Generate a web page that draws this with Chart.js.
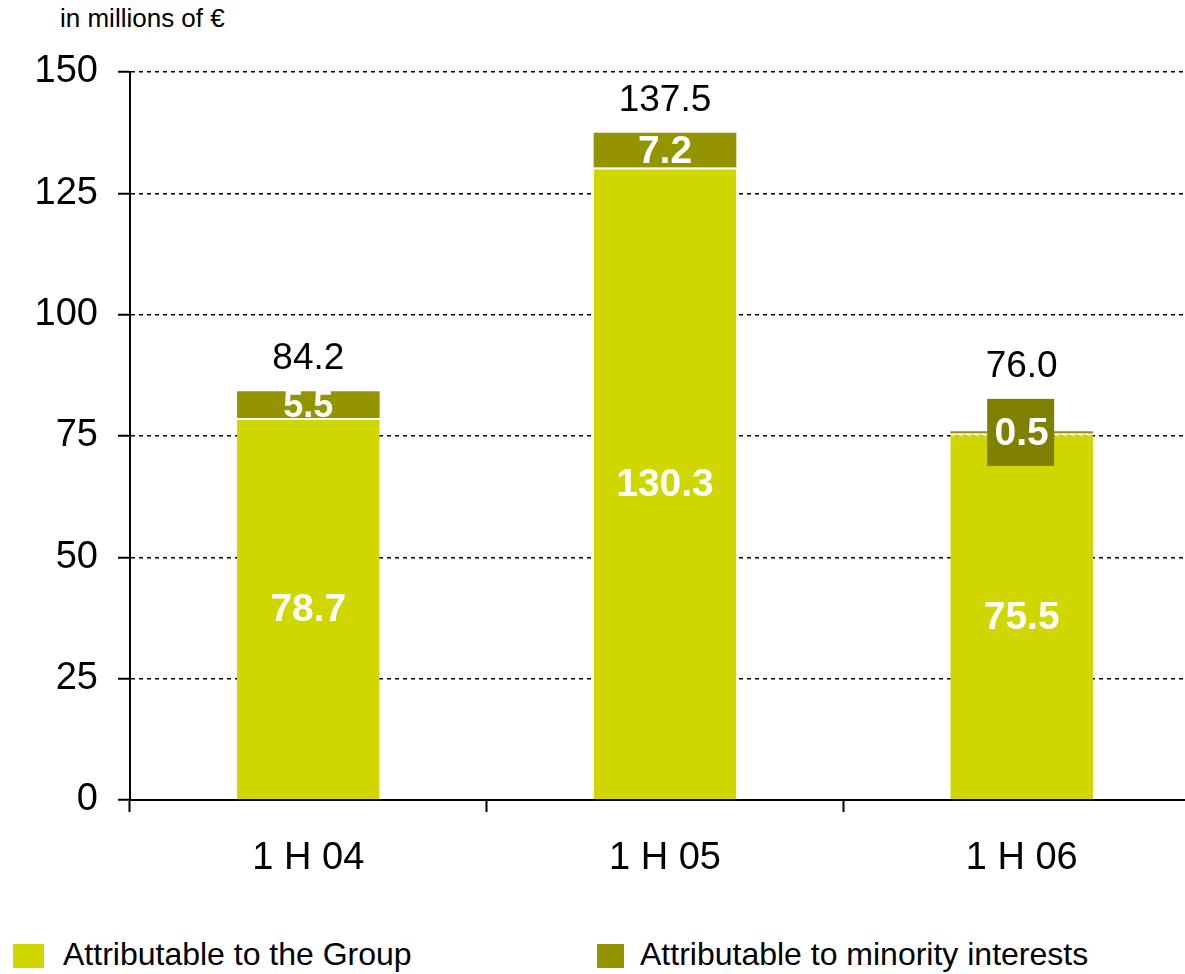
<!DOCTYPE html>
<html>
<head>
<meta charset="utf-8">
<script src="https://cdn.jsdelivr.net/npm/chart.js@4.4.1/dist/chart.umd.min.js"></script>
<style>
  html, body { margin: 0; padding: 0; background: #fff; overflow: hidden; }
  body { width: 1185px; height: 974px; position: relative; font-family: "Liberation Sans", Arial, sans-serif; }
  #wrap { position: absolute; left: 0; top: 0; width: 1200px; height: 900px; }
  #unit { position: absolute; left: 60px; top: 3px; font-size: 26px; color: #000; }
  .leg { position: absolute; top: 940px; font-size: 32px; color: #000; white-space: nowrap; }
  .leg span { position: absolute; top: 4px; height: 24px; }
  .leg b { font-weight: normal; position: absolute; left: 0; top: -4px; }
</style>
</head>
<body>
<div id="unit">in millions of €</div>
<div id="wrap"><canvas id="chart" width="1200" height="900"></canvas></div>
<div id="legend"></div>
<script>
// half-year periods
var categories = ['1 H 04', '1 H 05', '1 H 06'];
var groupValues = [78.7, 130.3, 75.5];
var minorityValues = [5.5, 7.2, 0.5];
var totals = [84.2, 137.5, 76.0];
var yTicks = [0, 25, 50, 75, 100, 125, 150];

var seriesNames = ['Attributable to the Group', 'Attributable to minority interests'];
var groupColor = '#d0d700';
var minorityColor = '#949400';
var fontFam = '"Liberation Sans", Arial, sans-serif';

// labels inside segments + totals on top of each stack
var labelPlugin = {
    id: 'barLabels',
    afterDatasetsDraw: function(chart) {
        var ctx = chart.ctx;
        ctx.save();
        ctx.textAlign = 'center';
        ctx.textBaseline = 'middle';
        var stackTop = [];
        chart.data.datasets.forEach(function(ds, di) {
            var meta = chart.getDatasetMeta(di);
            meta.data.forEach(function(bar, i) {
                var top = bar.y, bottom = bar.base;
                var cy = (top + bottom) / 2;
                var txt = ds.data[i].toFixed(1);
                ctx.font = 'bold 39px ' + fontFam;
                if (bottom - top < 30) {
                    if (bottom - top < 10) {
                        // segment too thin: put the label on its own box
                        var bw = 67, bh = 67;
                        ctx.fillStyle = '#808000';
                        ctx.fillRect(bar.x - bw / 2 - 1, cy - bh / 2, bw, bh);
                        stackTop[i] = Math.min(stackTop[i] === undefined ? 9999 : stackTop[i], cy - bh / 2);
                    } else {
                        ctx.font = 'bold 36px ' + fontFam;
                    }
                }
                ctx.fillStyle = '#fff';
                ctx.fillText(txt, bar.x, cy + 2);
                stackTop[i] = Math.min(stackTop[i] === undefined ? 9999 : stackTop[i], top);
            });
        });
        ctx.fillStyle = '#000';
        ctx.font = '37px ' + fontFam;
        ctx.textBaseline = 'alphabetic';
        var meta0 = chart.getDatasetMeta(0);
        totals.forEach(function(t, i) {
            ctx.fillText(t.toFixed(1), meta0.data[i].x, stackTop[i] - 22);
        });
        ctx.restore();
    }
};

var ctx = document.getElementById('chart').getContext('2d');
var myChart = new Chart(ctx, {
    type: 'bar',
    data: {
        labels: categories,
        datasets: [{
            label: seriesNames[0],
            data: groupValues,
            backgroundColor: groupColor,
            borderColor: '#ffffff',
            borderWidth: { top: 2, left: 0, right: 0, bottom: 0 },
            borderSkipped: 'bottom'
        }, {
            label: seriesNames[1],
            data: minorityValues,
            backgroundColor: minorityColor,
            borderWidth: 0
        }]
    },
    options: {
        responsive: false,
        animation: false,
        events: [],
        datasets: { bar: { barPercentage: 1, categoryPercentage: 0.4 } },
        layout: { padding: { top: 72, left: 0, right: 0, bottom: 0 } },
        plugins: {
            legend: { display: false },
            tooltip: { enabled: false }
        },
        scales: {
            x: {
                stacked: true,
                afterFit: function(scale) { scale.height = 100; },
                grid: { offset: true, drawOnChartArea: false, drawTicks: true, tickLength: 12, tickColor: '#000', tickWidth: 2 },
                border: { display: true, color: '#000', width: 2 },
                ticks: { color: '#000', padding: 24, font: { family: fontFam, size: 38 } }
            },
            y: {
                stacked: true,
                min: 0,
                max: 150,
                afterFit: function(scale) { scale.width = 130; },
                afterBuildTicks: function(scale) { scale.ticks = yTicks.map(function(v) { return { value: v }; }); },
                grid: { color: '#000', lineWidth: 1.5, drawTicks: true, tickLength: 12, tickColor: '#000', tickWidth: 2, tickBorderDash: [] },
                border: { display: true, color: '#000', width: 2, dash: [4, 4] },
                ticks: { color: '#000', padding: 20, font: { family: fontFam, size: 38 } }
            }
        }
    },
    plugins: [labelPlugin]
});

// legend below the chart
var legendPos = [{ box: 13, w: 31, text: 63 }, { box: 597, w: 27, text: 640 }];
var legendColors = [groupColor, minorityColor];
var legendHtml = '';
seriesNames.forEach(function(name, i) {
    legendHtml += '<div class="leg" style="left:0">' +
        '<span style="left:' + legendPos[i].box + 'px;width:' + legendPos[i].w + 'px;background:' + legendColors[i] + '"></span>' +
        '<b style="left:' + legendPos[i].text + 'px">' + name + '</b></div>';
});
document.getElementById('legend').innerHTML = legendHtml;
</script>
</body>
</html>
